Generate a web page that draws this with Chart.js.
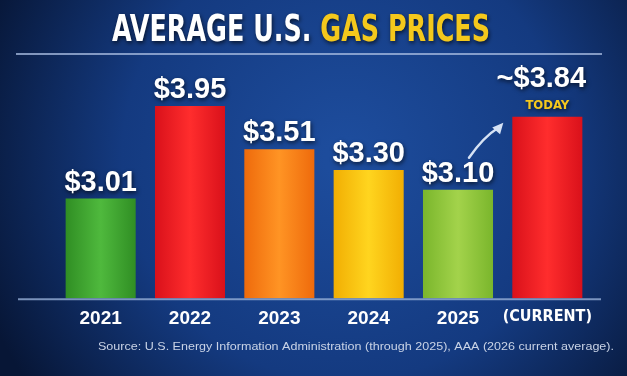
<!DOCTYPE html>
<html>
<head>
<meta charset="utf-8">
<script src="https://cdn.jsdelivr.net/npm/chart.js@4.4.1/dist/chart.umd.min.js"></script>
<style>
    html, body { margin: 0; padding: 0; background: #0b2150; }
    #wrap { width: 627px; height: 376px; position: relative; }
</style>
</head>
<body>
<div id="wrap"><canvas id="myChart"></canvas></div>
<script>
const years = ['2021', '2022', '2023', '2024', '2025', '(CURRENT)'];
const prices = [3.01, 3.95, 3.51, 3.30, 3.10, 3.84];
const priceLabels = ['$3.01', '$3.95', '$3.51', '$3.30', '$3.10', '~$3.84'];
const edgeColors = ['#2f8d23', '#d8101a', '#ee690b', '#f1ad02', '#79b52b', '#d8101a'];
const midColors = ['#4fb93d', '#ff2d2d', '#ff9424', '#ffd51f', '#a3d34b', '#ff2d2d'];
const titleWhite = 'AVERAGE U.S. ';
const titleYellow = 'GAS PRICES';
const sourceText = 'Source: U.S. Energy Information Administration (through 2025), AAA (2026 current average).';

const NARROW = '"Liberation Sans Narrow", "DejaVu Sans Condensed", "Liberation Sans", sans-serif';

function barGradient(context) {
    const chart = context.chart;
    const i = context.dataIndex;
    if (!chart.chartArea) return edgeColors[i];
    const x = chart.scales.x.getPixelForValue(i);
    const g = chart.ctx.createLinearGradient(x - 36, 0, x + 36, 0);
    g.addColorStop(0, edgeColors[i]);
    g.addColorStop(0.5, midColors[i]);
    g.addColorStop(1, edgeColors[i]);
    return g;
}

function shadowText(ctx, text, x, y, color) {
    ctx.save();
    ctx.shadowColor = 'rgba(0,0,0,0.65)';
    ctx.shadowBlur = 4;
    ctx.shadowOffsetX = 1;
    ctx.shadowOffsetY = 2;
    ctx.fillStyle = color;
    ctx.fillText(text, x, y);
    ctx.restore();
}

const posterPlugin = {
    id: 'poster',
    beforeDraw(chart) {
        const ctx = chart.ctx;
        const w = chart.width, h = chart.height;
        ctx.save();
        const bg = ctx.createRadialGradient(w * 0.55, h * 0.42, 20, w * 0.55, h * 0.42, w * 0.62);
        bg.addColorStop(0, '#1d4c9c');
        bg.addColorStop(0.55, '#143a80');
        bg.addColorStop(1, '#071636');
        ctx.fillStyle = bg;
        ctx.fillRect(0, 0, w, h);

        // title
        ctx.font = 'bold 38px ' + NARROW;
        ctx.textBaseline = 'alphabetic';
        const w1 = ctx.measureText(titleWhite).width;
        const w2 = ctx.measureText(titleYellow).width;
        const scale = 378 / (w1 + w2);
        ctx.translate(112, 41);
        ctx.scale(scale, 1);
        ctx.textAlign = 'left';
        shadowText(ctx, titleWhite, 0, 0, '#ffffff');
        shadowText(ctx, titleYellow, w1, 0, '#f4c81c');
        ctx.restore();

        // rule under title
        ctx.save();
        ctx.strokeStyle = 'rgba(170,190,225,0.75)';
        ctx.lineWidth = 2;
        ctx.beginPath();
        ctx.moveTo(16, 54);
        ctx.lineTo(602, 54);
        ctx.stroke();
        ctx.restore();
    },
    afterDatasetsDraw(chart) {
        const ctx = chart.ctx;
        const bars = chart.getDatasetMeta(0).data;
        const area = chart.chartArea;

        // baseline
        ctx.save();
        ctx.strokeStyle = 'rgba(150,175,215,0.8)';
        ctx.lineWidth = 2;
        ctx.beginPath();
        ctx.moveTo(18, area.bottom + 1);
        ctx.lineTo(601, area.bottom + 1);
        ctx.stroke();
        ctx.restore();

        // value labels
        ctx.save();
        ctx.textAlign = 'center';
        ctx.textBaseline = 'alphabetic';
        bars.forEach((bar, i) => {
            const last = i === bars.length - 1;
            ctx.font = 'bold 29px "Liberation Sans", Arial, sans-serif';
            if (last) {
                shadowText(ctx, priceLabels[i], bar.x - 6, bar.y - 30, '#ffffff');
                ctx.font = 'bold 13px ' + NARROW;
                shadowText(ctx, 'TODAY', bar.x, bar.y - 8, '#f4c81c');
            } else {
                shadowText(ctx, priceLabels[i], bar.x, bar.y - 8, '#ffffff');
            }
        });
        ctx.restore();

        // arrow from 2025 label toward current bar
        const a = bars[4], b = bars[5];
        const x0 = a.x + 11, y0 = a.y - 32;
        const x1 = b.x - b.width / 2 - 10, y1 = b.y + 7;
        ctx.save();
        ctx.strokeStyle = '#d6e2f4';
        ctx.fillStyle = '#d6e2f4';
        ctx.lineWidth = 2.5;
        ctx.lineCap = 'round';
        ctx.beginPath();
        ctx.moveTo(x0, y0);
        ctx.quadraticCurveTo((x0 + x1) / 2 - 2, (y0 + y1) / 2 - 4, x1 - 4, y1 + 4);
        ctx.stroke();
        const ang = Math.atan2(y1 - y0 - 6, x1 - x0 + 2);
        ctx.beginPath();
        ctx.moveTo(x1 + 1, y1 - 1);
        ctx.lineTo(x1 + 1 - 12 * Math.cos(ang - 0.45), y1 - 1 - 12 * Math.sin(ang - 0.45));
        ctx.lineTo(x1 + 1 - 12 * Math.cos(ang + 0.45), y1 - 1 - 12 * Math.sin(ang + 0.45));
        ctx.closePath();
        ctx.fill();
        ctx.restore();

        // source
        ctx.save();
        ctx.font = '10.5px "Liberation Sans", Arial, sans-serif';
        const sw = ctx.measureText(sourceText).width;
        ctx.translate(98, 350);
        ctx.scale(516 / sw, 1);
        ctx.textAlign = 'left';
        ctx.fillStyle = '#c9d3e6';
        ctx.fillText(sourceText, 0, 0);
        ctx.restore();
    }
};

const ctx = document.getElementById('myChart').getContext('2d');
new Chart(ctx, {
    type: 'bar',
    data: {
        labels: years,
        datasets: [{
            data: prices,
            backgroundColor: barGradient,
            borderWidth: 0,
            barPercentage: 0.8,
            categoryPercentage: 0.98
        }]
    },
    options: {
        responsive: true,
        maintainAspectRatio: false,
        animation: false,
        devicePixelRatio: 1,
        layout: { padding: { top: 101, left: 56, right: 35, bottom: 45 } },
        plugins: {
            legend: { display: false },
            tooltip: { enabled: false }
        },
        scales: {
            y: {
                display: false,
                min: 2,
                max: 4
            },
            x: {
                grid: { display: false },
                border: { display: false },
                ticks: {
                    color: '#ffffff',
                    padding: 1,
                    maxRotation: 0,
                    autoSkip: false,
                    font: c => c.index === 5
                        ? { family: NARROW, size: 16, weight: 'bold' }
                        : { family: '"Liberation Sans", Arial, sans-serif', size: 19, weight: 'bold' }
                }
            }
        }
    },
    plugins: [posterPlugin]
});
</script>
</body>
</html>
